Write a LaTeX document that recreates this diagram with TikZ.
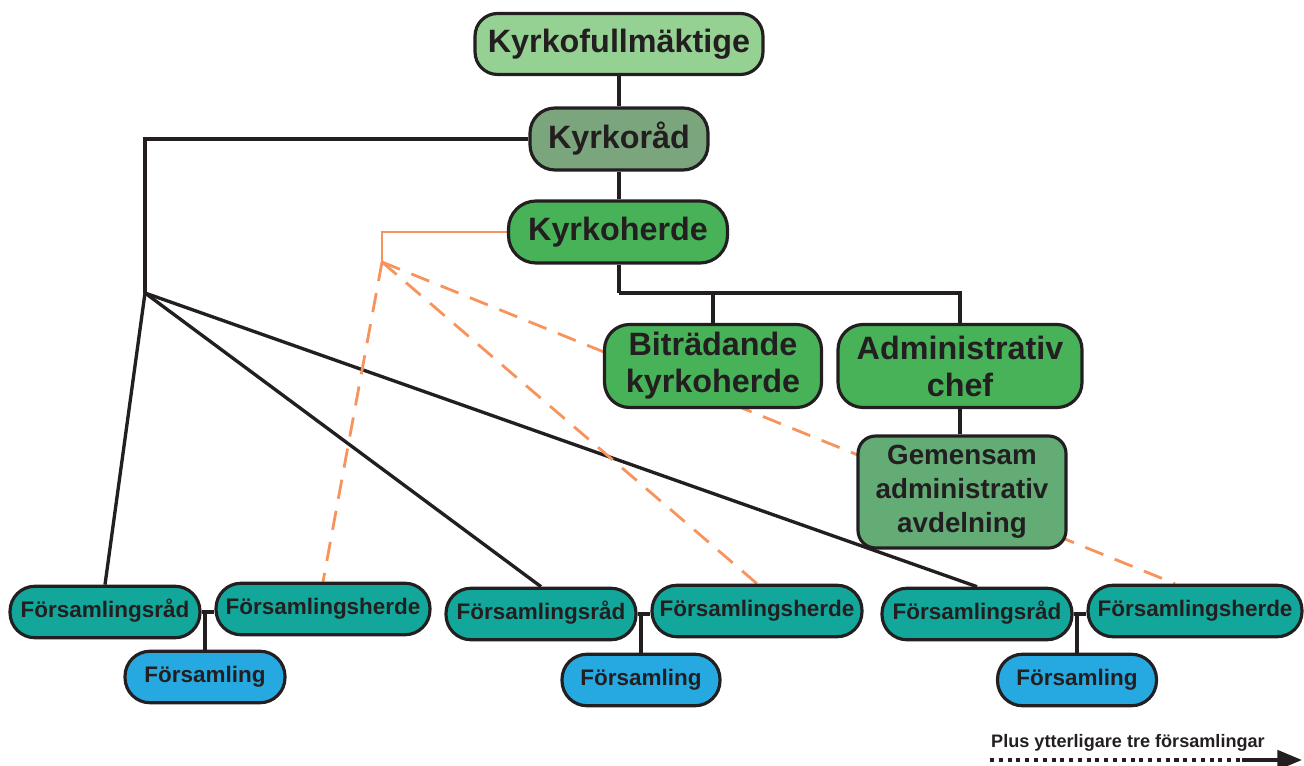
\documentclass[tikz,border=0pt]{standalone}
\usepackage{fontspec}
\setmainfont{Liberation Sans}
\usepackage{tikz}
\usetikzlibrary{calc,backgrounds,arrows.meta}
\definecolor{ink}{RGB}{35,31,32}
\definecolor{kfgreen}{RGB}{150,209,148}
\definecolor{krgreen}{RGB}{122,165,125}
\definecolor{khgreen}{RGB}{72,178,89}
\definecolor{gagreen}{RGB}{99,172,117}
\definecolor{teal}{RGB}{18,167,154}
\definecolor{sky}{RGB}{38,169,224}
\definecolor{orange}{RGB}{247,148,94}
\def\bigfont{\fontsize{18.4}{21}\selectfont\bfseries}
\def\midfont{\fontsize{15.8}{19.3}\selectfont\bfseries}
\def\smallfont{\fontsize{12.8}{15}\selectfont\bfseries}
\tikzset{
	box/.style={draw=ink, line width=1.8pt, text=ink, align=center, inner sep=0pt},
	pill/.style={box, font=\smallfont, rounded corners=0.5cm, minimum height=1.03cm, text height=9.2pt, text depth=2.7pt},
	link/.style={draw=ink, line width=1.9pt},
	olink/.style={draw=orange, line width=1.6pt},
	odash/.style={olink, dash pattern=on 11pt off 7pt},
}

\begin{document}
\begin{tikzpicture}[x=0.02cm, y=-0.02cm]
		%%%%% START %%%%%
		\useasboundingbox (0,0) rectangle (1304,766);
		
		\node[box, fill=kfgreen, font=\bigfont, minimum width=5.76cm, minimum height=1.22cm, rounded corners=0.45cm] (kf) at (619,44) {Kyrkofullmäktige};
		\node[box, fill=krgreen, font=\bigfont, minimum width=3.56cm, minimum height=1.24cm, rounded corners=0.5cm] (kr) at (619,139) {Kyrkoråd};
		\node[box, fill=khgreen, font=\bigfont, minimum width=4.38cm, minimum height=1.24cm, rounded corners=0.55cm] (kh) at (618,232) {Kyrkoherde};
		
		\node[box, fill=khgreen, font=\bigfont, minimum width=4.34cm, minimum height=1.66cm, rounded corners=0.5cm] (bk) at (713,366) {Biträdande\\kyrkoherde};
		\node[box, fill=khgreen, font=\bigfont, minimum width=4.88cm, minimum height=1.66cm, rounded corners=0.5cm] (ac) at (960,366) {Administrativ\\chef};
		\node[box, fill=gagreen, font=\midfont, minimum width=4.16cm, minimum height=2.24cm, rounded corners=0.35cm] (ga) at (962,492) {Gemensam\\administrativ\\avdelning};
		
		% forsamlingar
		\node[pill, fill=teal, minimum width=3.8cm] (fr1) at (105,612) {Församlingsråd};
		\node[pill, fill=teal, minimum width=4.28cm] (fh1) at (323,609) {Församlingsherde};
		\node[pill, fill=sky, minimum width=3.2cm] (f1) at (205,677) {Församling};
		
		\node[pill, fill=teal, minimum width=3.8cm] (fr2) at (541,614) {Församlingsråd};
		\node[pill, fill=teal, minimum width=4.2cm] (fh2) at (757,611) {Församlingsherde};
		\node[pill, fill=sky, minimum width=3.16cm] (f2) at (641,680) {Församling};
		
		\node[pill, fill=teal, minimum width=3.8cm] (fr3) at (977,614) {Församlingsråd};
		\node[pill, fill=teal, minimum width=4.28cm] (fh3) at (1195,611) {Församlingsherde};
		\node[pill, fill=sky, minimum width=3.18cm] (f3) at (1077,680) {Församling};
		
		\coordinate (hub) at (145,293);
		\coordinate (ohub) at (382,262);
		\coordinate (kbar) at (619,293);
		
		\begin{pgfonlayer}{background}
			\draw[link] (kf.south) -- (kr.north);
			\draw[link] (kr.south) -- (kr.south |- kh.north);
			\draw[link] (kr.west) -| (hub);
			\draw[link] (hub) -- (fr1.north);
			\draw[link] (hub) -- (fr2.north);
			\draw[link] (hub) -- (fr3.north);
			\draw[link] (kbar |- kh.south) -- (kbar);
			\draw[link] (bk.north) |- (kbar) -| (ac.north);
			\draw[link] (ac.south) -- (ac.south |- ga.north);
			
			\draw[olink] (kh.west) -| (ohub);
			\draw[odash] (ohub) -- (fh1.north);
			\draw[odash] (ohub) -- (fh2.north);
			\draw[odash] (ohub) -- ($(fh3.north)-(20,0)$);
			
			\draw[link] (fr1.east) -- (fr1.east -| fh1.west);
			\draw[link] (f1.north) -- (f1.north |- fr1.east);
			\draw[link] (fr2.east) -- (fr2.east -| fh2.west);
			\draw[link] (f2.north) -- (f2.north |- fr2.east);
			\draw[link] (fr3.east) -- (fr3.east -| fh3.west);
			\draw[link] (f3.north) -- (f3.north |- fr3.east);
		\end{pgfonlayer}
		
		% fler
		\node[text=ink, font=\fontsize{10.3}{12}\selectfont\bfseries] (plus) at (1128,743) {Plus ytterligare tre församlingar};
		\coordinate (arrs) at (990,760);
		\coordinate (arrm) at (1242,760);
		\coordinate (arre) at (1302,760);
		\draw[ink, line width=2.1pt, dash pattern=on 2.3pt off 2.7pt] (arrs) -- (arrm);
		\draw[ink, line width=2.1pt, -{Triangle[length=14pt, width=11pt]}] (arrm) -- (arre);
		
		%%%%% END %%%%%
	\end{tikzpicture}
\end{document}
